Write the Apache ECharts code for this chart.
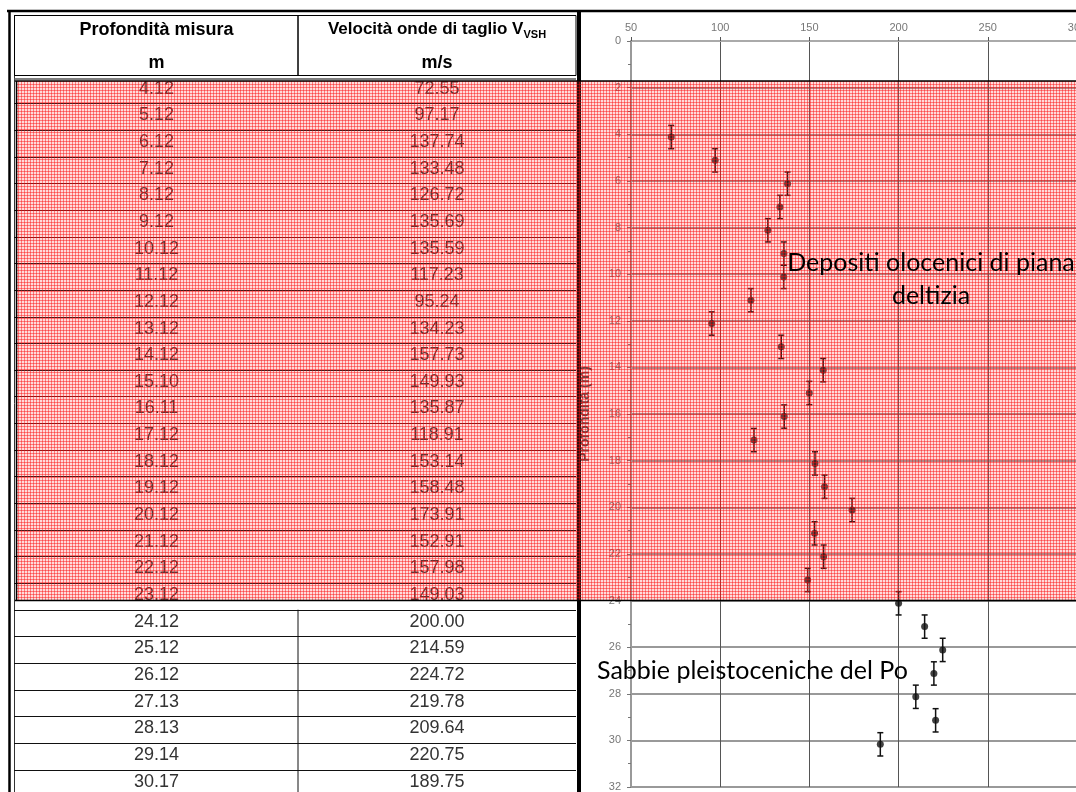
<!DOCTYPE html>
<html>
<head>
<meta charset="utf-8">
<script src="https://cdn.jsdelivr.net/npm/echarts@6/dist/echarts.min.js"></script>
<style>
	html, body { margin: 0; padding: 0; background: #fff; }
	#main { width: 1076px; height: 792px; }
</style>
</head>
<body>
<div id="main"></div>
<script>
	// profondità di misura (m) e velocità Vs (m/s)
	var depths = [4.12, 5.12, 6.12, 7.12, 8.12, 9.12, 10.12, 11.12, 12.12, 13.12,
		14.12, 15.10, 16.11, 17.12, 18.12, 19.12, 20.12, 21.12, 22.12, 23.12,
		24.12, 25.12, 26.12, 27.13, 28.13, 29.14, 30.17];
	var velocities = [72.55, 97.17, 137.74, 133.48, 126.72, 135.69, 135.59, 117.23, 95.24, 134.23,
		157.73, 149.93, 135.87, 118.91, 153.14, 158.48, 173.91, 152.91, 157.98, 149.03,
		200.00, 214.59, 224.72, 219.78, 209.64, 220.75, 189.75];
	var headerDepth = ['Profondità misura', 'm'];
	var headerVel = ['Velocità onde di taglio V', 'VSH', 'm/s'];
	var layerLabels = ['Depositi olocenici di piana\ndeltizia', 'Sabbie pleistoceniche del Po'];
	var boundaryDepth = 24; // limite olocene / pleistocene
	var errHalf = 0.5;      // semiampiezza barre d'errore (m)

	var myChart = echarts.init(document.getElementById('main'));

	// trama rossa a quadretti
	function makePattern() {
		var c = document.createElement('canvas');
		c.width = 3; c.height = 3;
		var ctx = c.getContext('2d');
		ctx.fillStyle = 'rgba(255,70,70,0.2)';
		ctx.fillRect(0, 0, 3, 3);
		ctx.fillStyle = 'rgba(250,10,10,0.45)';
		ctx.fillRect(0, 0, 3, 1);
		ctx.fillRect(0, 0, 1, 3);
		return c;
	}

	var font = 'Liberation Sans, Arial, sans-serif';
	var rowTop0 = 76.7, rowH = 26.65;
	var col1X = 156.5, col2X = 437;

	myChart.setOption({
		animation: false,
		grid: { left: 631, top: 41, width: 446, height: 746, outerBoundsMode: 'none' },
		xAxis: {
			type: 'value', position: 'top', min: 50, max: 300, interval: 50,
			axisLine: { show: true, onZero: false, lineStyle: { color: '#aaa', width: 2 } },
			axisTick: { show: true, length: 4, lineStyle: { color: '#555' } },
			axisLabel: { color: '#777', fontSize: 11, margin: 8, fontFamily: font },
			splitLine: { show: true, lineStyle: { color: '#555', width: 1 } }
		},
		yAxis: {
			type: 'value', inverse: true, min: 0, max: 32, interval: 2,
			name: 'Profondità (m)', nameLocation: 'middle', nameGap: 39, nameRotate: 90,
			nameTextStyle: { color: '#444', fontSize: 14, fontWeight: 'bold', fontFamily: font },
			axisLine: { show: true, onZero: false, lineStyle: { color: '#999', width: 2 } },
			axisTick: { show: true, length: 4, lineStyle: { color: '#777' } },
			minorTick: { show: true, splitNumber: 2, length: 3, lineStyle: { color: '#777' } },
			axisLabel: { color: '#777', fontSize: 11, margin: 10, fontFamily: font },
			splitLine: { show: true, lineStyle: { color: '#999', width: 2 } }
		},
		series: [{
			type: 'custom',
			data: velocities.map((v, i) => [v, depths[i]]),
			renderItem: function (params, api) {
				var top = api.coord([api.value(0), api.value(1) - errHalf]);
				var bot = api.coord([api.value(0), api.value(1) + errHalf]);
				var st = { stroke: '#111', lineWidth: 1.5 };
				return {
					type: 'group',
					children: [
						{ type: 'line', shape: { x1: top[0], y1: top[1], x2: bot[0], y2: bot[1] }, style: st },
						{ type: 'line', shape: { x1: top[0] - 3, y1: top[1], x2: top[0] + 3, y2: top[1] }, style: st },
						{ type: 'line', shape: { x1: bot[0] - 3, y1: bot[1], x2: bot[0] + 3, y2: bot[1] }, style: st }
					]
				};
			},
			z: 3
		}, {
			type: 'scatter',
			data: velocities.map((v, i) => [v, depths[i]]),
			symbolSize: 7,
			itemStyle: { color: '#111' },
			z: 4
		}]
	});

	var redBottom = myChart.convertToPixel({ yAxisIndex: 0 }, boundaryDepth);
	var redTop = 81;

	var els = [];
	function line(x1, y1, x2, y2, color, w, z) {
		els.push({ type: 'line', z: z || 1, shape: { x1: x1, y1: y1, x2: x2, y2: y2 },
			style: { stroke: color, lineWidth: w } });
	}
	function text(x, y, str, size, weight, color, z) {
		els.push({ type: 'text', z: z || 1, style: {
			x: x, y: y, text: str, fontSize: size, fontWeight: weight, fontFamily: font,
			fill: color, textAlign: 'center', align: 'center', textVerticalAlign: 'middle', verticalAlign: 'middle'
		} });
	}

	// cornice esterna
	line(7, 11, 1076, 11, '#000', 2.5);
	line(9.5, 10, 9.5, 792, '#000', 2.5);
	line(14.5, 15, 14.5, 792, '#333', 1);
	els.push({ type: 'rect', z: 5, shape: { x: 577, y: 10, width: 4, height: 782 }, style: { fill: '#000' } });

	// intestazione
	els.push({ type: 'rect', z: 1, shape: { x: 14.5, y: 15.5, width: 283.5, height: 60 }, style: { fill: 'none', stroke: '#000', lineWidth: 1 } });
	els.push({ type: 'rect', z: 1, shape: { x: 298, y: 15.5, width: 278, height: 60 }, style: { fill: 'none', stroke: '#000', lineWidth: 1 } });
	line(14, 79, 576, 79, '#555', 1.5);
	text(col1X, 30, headerDepth[0], 18, 'bold', '#000');
	text(col1X, 63, headerDepth[1], 18, 'bold', '#000');
	els.push({ type: 'text', z: 1, style: {
		x: col2X, y: 29, text: '{a|' + headerVel[0] + '}{b|' + headerVel[1] + '}',
		textAlign: 'center', align: 'center', textVerticalAlign: 'middle', verticalAlign: 'middle',
		rich: {
			a: { fontSize: 17, fontWeight: 'bold', fontFamily: font, fill: '#000', lineHeight: 22 },
			b: { fontSize: 11, fontWeight: 'bold', fontFamily: font, fill: '#000', verticalAlign: 'bottom', lineHeight: 22 }
		}
	} });
	text(col2X, 63, headerVel[2], 18, 'bold', '#000');

	// righe tabella
	for (var i = 0; i < depths.length; i++) {
		var yTop = rowTop0 + rowH * i;
		text(col1X, yTop + 12, depths[i].toFixed(2), 18, 'normal', '#333');
		text(col2X, yTop + 12, velocities[i].toFixed(2), 18, 'normal', '#333');
		var yb = yTop + rowH;
		if (yb < 792) line(14, Math.round(yb) + 0.5, 576, Math.round(yb) + 0.5, '#111', 1);
	}
	var firstWhite = rowTop0 + rowH * 20;
	line(298, firstWhite, 298, 792, '#111', 1);

	// strato rosso
	els.push({ type: 'rect', z: 10, shape: { x: 16, y: redTop, width: 1060, height: redBottom - redTop },
		style: { fill: { image: makePattern(), repeat: 'repeat' } } });
	line(15, redTop, 1076, redTop, '#000', 1.5, 11);
	line(15, redBottom, 1076, redBottom, '#000', 1.5, 11);
	line(16.5, redTop, 16.5, redBottom, '#000', 1.5, 11);

	// etichette strati
	els.push({ type: 'text', z: 20, style: {
		x: 931, y: 279, text: layerLabels[0], fontSize: 25, fontFamily: 'Lato, sans-serif',
		fill: '#000', textAlign: 'center', align: 'center', textVerticalAlign: 'middle', verticalAlign: 'middle', lineHeight: 33
	} });
	els.push({ type: 'text', z: 20, style: {
		x: 597, y: 671, text: layerLabels[1], fontSize: 25, fontFamily: 'Lato, sans-serif',
		fill: '#000', textAlign: 'left', align: 'left', textVerticalAlign: 'middle', verticalAlign: 'middle'
	} });

	myChart.setOption({ graphic: { elements: els } });
</script>
</body>
</html>
